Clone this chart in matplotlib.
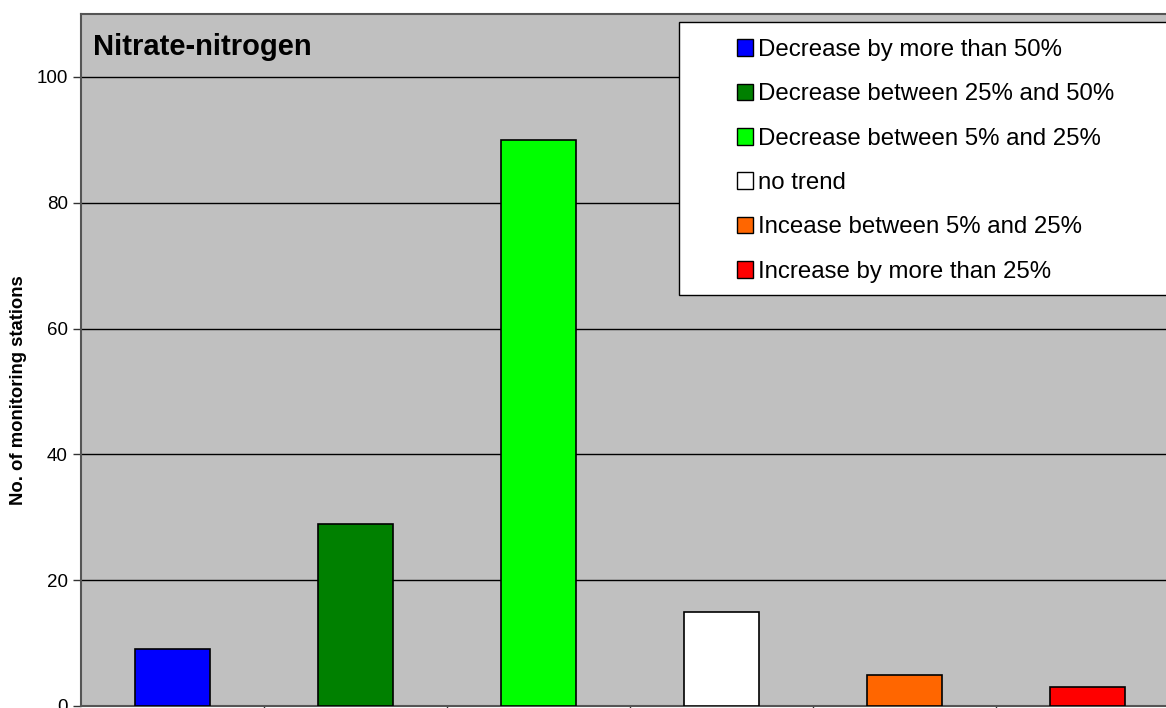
import matplotlib.pyplot as plt
import matplotlib.patches as mpatches
import numpy as np

plt.rcParams['font.family'] = ['Liberation Sans', 'DejaVu Sans']

categories = ['Decrease by more than 50%', 'Decrease between 25% and 50%',
              'Decrease between 5% and 25%', 'no trend',
              'Incease between 5% and 25%', 'Increase by more than 25%']
values = [9, 29, 90, 15, 5, 3]
colors = ['#0000FF', '#008000', '#00FF00', '#FFFFFF', '#FF6600', '#FF0000']
yticks = [0, 20, 40, 60, 80, 100]

W, H = 1166, 708
fig = plt.figure(figsize=(W / 100, H / 100), dpi=100)
ax = fig.add_axes([81 / W, 2 / H, 1098 / W, 692 / H])
ax.set_facecolor('#C0C0C0')

x = np.arange(len(values))
bars = ax.bar(x, values, width=0.41, color=colors, edgecolor='black',
              linewidth=1.2, zorder=3)

ax.set_xlim(-0.5, len(values) - 0.5)
ax.set_ylim(0, 110)
ax.set_yticks(yticks)
ax.set_yticklabels([str(t) for t in yticks], fontsize=13.5)
ax.set_xticks(np.arange(0.5, len(values) - 0.5, 1.0))
ax.set_xticklabels([])
ax.tick_params(axis='both', direction='out', length=6, width=1, color='#333333')
ax.grid(axis='y', color='black', linewidth=1, zorder=1)
for s in ax.spines.values():
    s.set_color('#555555')
    s.set_linewidth(1.5)

ax.set_ylabel('No. of monitoring stations', fontsize=13.3, fontweight='bold',
              va='center')
ax.yaxis.set_label_coords((19 - 81) / 1098, (706 - 390) / 692)
ax.text(93, H - 47, 'Nitrate-nitrogen', transform=None, fontsize=21,
        fontweight='bold', va='center', ha='left')

# legend box
fig.patches.append(mpatches.Rectangle((679 / W, 1 - 295 / H), (1170 - 679) / W,
                                      (295 - 22) / H, transform=fig.transFigure,
                                      facecolor='white', edgecolor='black',
                                      linewidth=1, zorder=5))
handles = [mpatches.Patch(facecolor=c, edgecolor='black', linewidth=1)
           for c in colors]
leg = fig.legend(handles, categories, loc='upper left',
                 bbox_to_anchor=(725 / W, 1 - 27 / H), frameon=False,
                 fontsize=17.3, handlelength=0.68, handleheight=0.68,
                 handletextpad=0.2, labelspacing=0.93, borderpad=0)
leg.set_zorder(6)

fig.savefig('out.png', dpi=100)
